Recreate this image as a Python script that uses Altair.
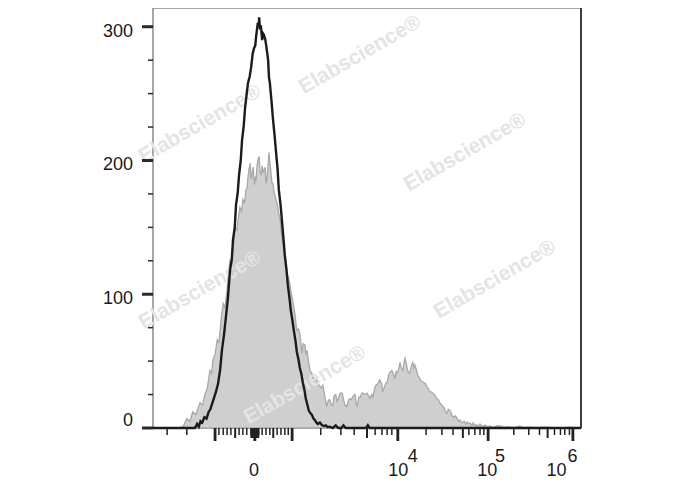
import altair as alt
import pandas as pd

# ---- data (x in display channels 0-1000, y in event counts) ----
black_ch = [0, 60, 98, 103, 107, 111, 115, 120, 125, 130,
            134, 138, 142, 147, 152, 157, 161, 166, 171, 175,
            180, 184, 187, 191, 194, 198, 201, 205, 208, 212,
            215, 219, 222, 226, 229, 233, 236, 239, 241, 243,
            245, 247, 248, 250, 252, 255, 257, 259, 262, 264,
            267, 269, 271, 273, 277, 280, 284, 287, 291, 294,
            298, 301, 305, 308, 312, 315, 319, 322, 326, 329,
            333, 336, 340, 343, 347, 350, 354, 357, 361, 364,
            368, 371, 375, 378, 382, 385, 390, 395, 400, 404,
            408, 413, 420, 427, 433, 440, 445, 450, 498, 502,
            506, 600, 800, 1000]
black_ct = [0, 0, 0, 3, 1, 5, 4, 8, 7, 12,
            14, 18, 22, 27, 33, 44, 58, 70, 85, 97,
            118, 126, 141, 150, 167, 176, 189, 200, 215, 226,
            239, 250, 258, 263, 269, 280, 284, 286, 293, 298,
            303, 300, 307, 298, 301, 290, 295, 294, 291, 287,
            280, 275, 262, 258, 244, 232, 219, 208, 194, 178,
            167, 156, 141, 129, 118, 107, 97, 88, 80, 73,
            65, 57, 51, 45, 40, 34, 28, 22, 17, 13,
            11, 10, 7, 6, 4, 3, 4, 2, 1.5, 2,
            0.7, 1, 0, 2, 0, 0, 2, 0, 0, 2,
            0, 0, 0, 0]

gray_ch = [0, 58, 70, 79, 86, 93, 100, 110, 116, 121,
           127, 133, 137, 140, 145, 150, 154, 157, 160, 164,
           168, 173, 177, 180, 184, 187, 190, 192, 196, 199,
           203, 207, 210, 214, 217, 220, 222, 224, 227, 229,
           231, 234, 237, 239, 241, 243, 245, 248, 250, 253,
           255, 258, 262, 264, 266, 269, 271, 273, 275, 278,
           280, 283, 285, 288, 290, 294, 297, 299, 301, 305,
           308, 311, 313, 317, 320, 323, 325, 329, 332, 334,
           336, 340, 343, 346, 348, 351, 355, 357, 360, 363,
           367, 371, 374, 378, 383, 386, 390, 394, 397, 401,
           406, 410, 413, 417, 420, 423, 427, 430, 432, 437,
           442, 446, 449, 453, 457, 460, 463, 468, 472, 475,
           477, 481, 484, 488, 491, 495, 500, 504, 507, 511,
           514, 518, 521, 525, 530, 534, 537, 541, 545, 547,
           551, 554, 558, 562, 565, 568, 570, 574, 577, 580,
           584, 587, 589, 592, 596, 600, 604, 607, 610, 612,
           616, 619, 622, 624, 628, 633, 637, 640, 644, 647,
           651, 654, 658, 663, 667, 670, 675, 680, 684, 687,
           690, 694, 698, 701, 706, 710, 714, 717, 722, 727,
           731, 734, 738, 741, 745, 748, 752, 757, 760, 764,
           770, 776, 782, 787, 795, 803, 811, 820, 827, 834,
           845, 857, 865, 881, 895, 916, 935, 951, 974, 990,
           1000]
gray_ct = [0, 0, 1, 7, 5, 12, 10, 19, 17, 25,
           30, 43, 41, 51, 55, 66, 64, 73, 84, 93,
           90, 103, 118, 126, 122, 133, 145, 150, 148, 156,
           165, 162, 171, 168, 178, 180, 188, 193, 198, 186,
           189, 195, 182, 188, 185, 196, 200, 203, 192, 189,
           196, 191, 195, 183, 185, 197, 206, 199, 193, 183,
           183, 176, 174, 170, 168, 160, 156, 149, 143, 135,
           129, 122, 116, 112, 107, 101, 98, 90, 85, 78,
           73, 74, 71, 62, 56, 63, 62, 55, 58, 50,
           43, 41, 38, 36, 36, 33, 31, 30, 32, 24,
           16, 21, 21, 17, 17, 24, 25, 20, 21, 26,
           26, 20, 17, 16, 21, 22, 21, 24, 25, 18,
           16, 23, 23, 26, 26, 25, 26, 24, 22, 25,
           23, 30, 32, 33, 36, 33, 27, 31, 34, 34,
           40, 42, 43, 40, 37, 42, 41, 44, 49, 45,
           43, 50, 52, 48, 42, 41, 47, 49, 45, 47,
           43, 39, 38, 36, 35, 34, 33, 31, 29, 27,
           27, 26, 25, 22, 21, 19, 17, 15, 12, 11,
           14, 13, 10, 8, 9, 7.5, 5, 6, 4, 5,
           3, 4.5, 3, 3.7, 2, 3.7, 2, 2.2, 1, 3,
           1, 2.2, 0.8, 1.5, 0.5, 1.5, 1.5, 0.5, 1, 0.7,
           0.3, 1.5, 0.3, 0.7, 0.2, 0.7, 0.2, 0, 0.7, 0,
           0]

# axis ticks
y_major = [0, 100, 200, 300]
y_lab_upper = [100, 200, 300]
y_lab_upper_text = ["100", "200", "300"]
y_lab_zero = [0]
y_lab_zero_text = ["0"]
y_minor = [25, 50, 75, 125, 150, 175, 225, 250, 275]
x_major = [145, 238, 325, 572, 783, 981]
x_mid = [192, 281, 500, 724, 922,
         230, 231, 232, 233, 234, 235, 236, 237, 239, 240, 241, 242, 243, 244, 245, 246]
x_minor = [33, 79, 154, 164, 173, 182, 201, 210, 219, 229,
           247, 255, 264, 273, 290, 299, 308, 316, 392, 439,
           470, 519, 535, 547, 558, 638, 675, 701, 738, 752,
           764, 773, 843, 878, 903, 938, 952, 962, 973]

# x tick labels (base and exponent)
base_text = ["0", "10", "10", "10"]
base_ch = [236, 573, 781, 943]
sup_text = ["4", "5", "6"]
sup_ch = [607, 811, 980]

# watermark
wm_text = ["Elabscience®"] * 6
wm_ch = [484, 110, 729, 110, 799, 355]
wm_ct = [279, 227, 206, 103, 111, 32]

W, H = 428, 420
FONT = "Liberation Sans"
xs = alt.Scale(domain=[0, 1000], nice=False, zero=False)
ys = alt.Scale(domain=[0, 314], nice=False, zero=True)


def XN(f):
    return alt.X(f, type="quantitative", scale=xs, axis=None)


def YN(f):
    return alt.Y(f, type="quantitative", scale=ys, axis=None)


gray = alt.Chart(pd.DataFrame({"ch": gray_ch, "ct": gray_ct})).mark_area(
    color="#cfcfcf", stroke="#a8a8a8", strokeWidth=1.3
).encode(x=XN("ch"), y=YN("ct"))

wm = alt.Chart(pd.DataFrame({"ch": wm_ch, "ct": wm_ct, "t": wm_text})).mark_text(
    angle=330, fontSize=21, fontWeight="bold", font=FONT, color="#e4e4e4",
    align="center", baseline="middle"
).encode(x=XN("ch"), y=YN("ct"), text="t:N")

black = alt.Chart(pd.DataFrame({"ch": black_ch, "ct": black_ct})).mark_line(
    color="#1b1b1b", strokeWidth=2.4
).encode(x=XN("ch"), y=YN("ct"))


def xticks(vals, length, width):
    return alt.Chart(pd.DataFrame({"ch": vals})).mark_rule(
        color="#222222", strokeWidth=width
    ).encode(x=XN("ch"), y=alt.value(H), y2=alt.value(H + length))


def yticks(vals, length, width):
    return alt.Chart(pd.DataFrame({"v": vals})).mark_rule(
        color="#2a2a2a", strokeWidth=width
    ).encode(y=YN("v"), x=alt.value(-length), x2=alt.value(0))


def ylabels(vals, texts, dy):
    return alt.Chart(pd.DataFrame({"v": vals, "t": texts})).mark_text(
        fontSize=18, font=FONT, color="#1a1a1a", align="right",
        baseline="middle", dy=dy
    ).encode(y=YN("v"), x=alt.value(-20), text="t:N")


right = alt.Chart(pd.DataFrame({"a": [0]})).mark_rule(
    color="#3c3c3c", strokeWidth=2
).encode(x=alt.value(W), y=alt.value(0), y2=alt.value(H))

base = alt.Chart(pd.DataFrame({"ch": base_ch, "t": base_text})).mark_text(
    fontSize=18, font=FONT, color="#1a1a1a", align="center", baseline="middle"
).encode(x=XN("ch"), y=alt.value(463), text="t:N")

sup = alt.Chart(pd.DataFrame({"ch": sup_ch, "t": sup_text})).mark_text(
    fontSize=18, font=FONT, color="#1a1a1a", align="center", baseline="middle"
).encode(x=XN("ch"), y=alt.value(449), text="t:N")

chart = alt.layer(
    gray, wm, black,
    xticks(x_minor, 7, 1.5), xticks(x_mid, 10, 2), xticks(x_major, 13, 2.8),
    yticks(y_minor, 5, 1.5), yticks(y_major, 11, 3),
    right,
    ylabels(y_lab_upper, y_lab_upper_text, 5),
    ylabels(y_lab_zero, y_lab_zero_text, -7),
    base, sup
).properties(
    width=W, height=H,
    autosize=alt.AutoSizeParams(type="none"),
    padding={"left": 145, "top": 0, "right": 30, "bottom": 62},
).configure_view(stroke="#8a8a8a", strokeWidth=1.5)

chart.save("out.html", embed_options={"renderer": "svg", "actions": False})
